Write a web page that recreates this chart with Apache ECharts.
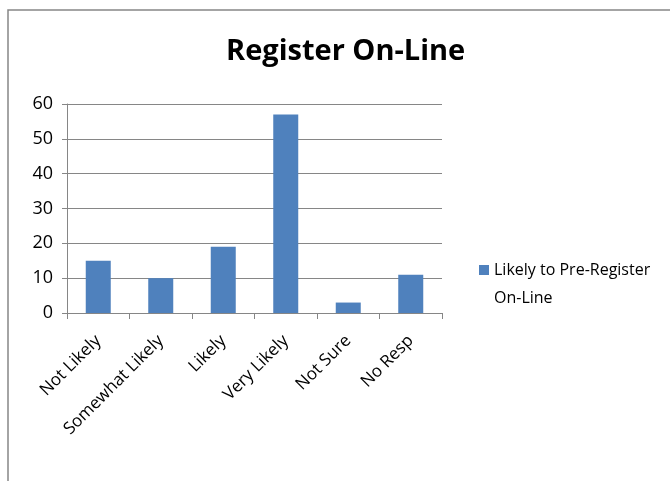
<!DOCTYPE html>
<html>
<head>
<meta charset="utf-8">
<script src="https://cdn.jsdelivr.net/npm/echarts@6/dist/echarts.min.js"></script>
<style>
  html, body { margin: 0; padding: 0; background: #fff; }
  #chart { width: 670px; height: 481px; }
</style>
</head>
<body>
<div id="chart"></div>
<script>
  const categories = ['Not Likely', 'Somewhat Likely', 'Likely', 'Very Likely', 'Not Sure', 'No Resp'];
  const responses = [15, 10, 19, 57, 3, 11];
  const seriesName = 'Likely to Pre-Register On-Line';

  const fontFamily = '"Open Sans", "Noto Sans", sans-serif';
  const axisGray = '#868686';
  const barBlue = '#4f81bd';

  // legend marker: 10x10 square sitting at the top of a 38px tall box,
  // so it lines up with the first line of the wrapped legend text
  const legendIcon = 'path://M0,0L10,0L10,10L0,10ZM0,38L10,38';

  const chart = echarts.init(document.getElementById('chart'));
  chart.setOption({
    animation: false,
    textStyle: { fontFamily: fontFamily },
    title: {
      text: 'Register On-Line',
      left: 221,
      top: 32,
      textStyle: { fontSize: 29, fontWeight: 'bold', color: '#000', fontFamily: fontFamily }
    },
    // outer chart border (runs off the right/bottom edge)
    graphic: [{
      type: 'rect',
      shape: { x: 8, y: 10, width: 700, height: 520 },
      style: { fill: 'none', stroke: axisGray, lineWidth: 1.5 },
      silent: true
    }],
    legend: {
      left: 474,
      top: 251,
      itemWidth: 10,
      itemHeight: 38,
      icon: legendIcon,
      textStyle: {
        fontSize: 16,
        color: '#000',
        width: 175,
        overflow: 'break',
        lineHeight: 28
      },
      data: [seriesName]
    },
    grid: { left: 67, right: 228, top: 104, bottom: 168 },
    xAxis: {
      type: 'category',
      data: categories,
      axisLine: { lineStyle: { color: axisGray } },
      axisTick: { show: true, length: 6, lineStyle: { color: axisGray } },
      axisLabel: { rotate: 45, interval: 0, fontSize: 17, color: '#000', margin: 25 }
    },
    yAxis: {
      type: 'value',
      min: 0,
      max: 60,
      interval: 10,
      axisLine: { show: true, lineStyle: { color: axisGray } },
      axisTick: { show: true, length: 5, lineStyle: { color: axisGray } },
      axisLabel: { fontSize: 18, color: '#000', margin: 14 },
      splitLine: { lineStyle: { color: axisGray } }
    },
    series: [{
      name: seriesName,
      type: 'bar',
      data: responses,
      barWidth: '40%',
      itemStyle: { color: barBlue }
    }]
  });
</script>
</body>
</html>
